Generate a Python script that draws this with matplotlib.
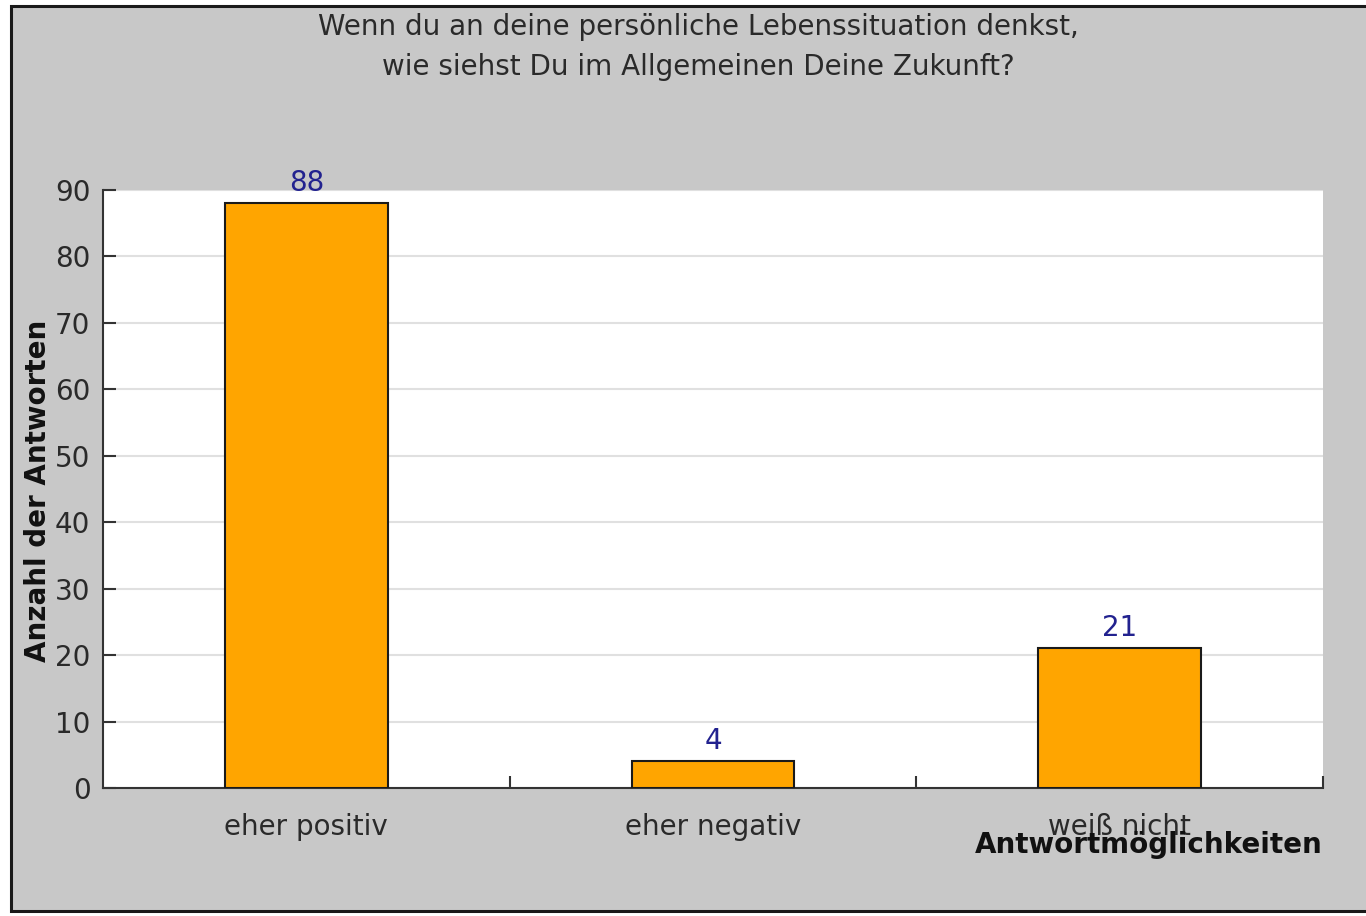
import matplotlib
matplotlib.use("Agg")
import matplotlib.pyplot as plt
from matplotlib.patches import Rectangle

categories = ["eher positiv", "eher negativ", "weiß nicht"]
values = [88, 4, 21]
yticks = [0, 10, 20, 30, 40, 50, 60, 70, 80, 90]
title = "Wenn du an deine persönliche Lebenssituation denkst,\nwie siehst Du im Allgemeinen Deine Zukunft?"
xlabel = "Antwortmöglichkeiten"
ylabel = "Anzahl der Antworten"

W, H = 1366, 916
fig = plt.figure(figsize=(W / 100, H / 100), dpi=100, facecolor="white")
plt.rcParams["font.family"] = ["DejaVu Sans"]

txt = "#2a2a2a"
fs = 20

# gray background frame
fig.patches.append(Rectangle((11 / W, 1 - 911 / H), 1.2, (911 - 6) / H,
                             transform=fig.transFigure, facecolor="#c8c8c8",
                             edgecolor="#1a1a1a", linewidth=2.2, zorder=-10))

ax = fig.add_axes([103 / W, 1 - 788 / H, (1323 - 103) / W, (788 - 190) / H])
ax.set_zorder(1)
ax.set_facecolor("white")
x = list(range(len(categories)))
ax.bar(x, values, width=0.4, color="#ffa500", edgecolor="#1a1a1a", linewidth=1.5, zorder=3)
ax.set_xlim(-0.5, len(categories) - 0.5)
ax.set_ylim(0, 90)
ax.set_yticks(yticks)
ax.set_xticks(x)
ax.set_xticklabels(categories)
ax.set_xticks([i + 0.5 for i in x], minor=True)
ax.tick_params(axis="x", which="major", length=0, pad=18, labelsize=fs, labelcolor=txt)
ax.tick_params(axis="x", which="minor", direction="in", length=9, width=1.5, color="#333333")
ax.tick_params(axis="y", direction="in", length=9, width=1.5, color="#333333",
               pad=9, labelsize=fs, labelcolor=txt)
for s in ["top", "right"]:
    ax.spines[s].set_visible(False)
for s in ["left", "bottom"]:
    ax.spines[s].set_color("#333333")
    ax.spines[s].set_linewidth(1.5)
ax.grid(axis="y", color="#e0e0e0", linewidth=1.5, zorder=0)
ax.set_axisbelow(True)

for xi, v in zip(x, values):
    ax.annotate(str(v), (xi, v), xytext=(0, 9), textcoords="offset points",
                ha="center", va="baseline", fontsize=fs, color="#22228f", zorder=4)

fig.text(698 / W, 1 - 47 / H, title, ha="center", va="center", fontsize=fs,
         color=txt, linespacing=1.55)
fig.text(1323 / W, 1 - 845 / H, xlabel, ha="right", va="center", fontsize=fs,
         fontweight="bold", color="#111111")
fig.text(38 / W, 1 - 491 / H, ylabel, ha="center", va="center", rotation=90,
         fontsize=fs, fontweight="bold", color="#111111")

fig.savefig("out.png", dpi=100, facecolor="white")
